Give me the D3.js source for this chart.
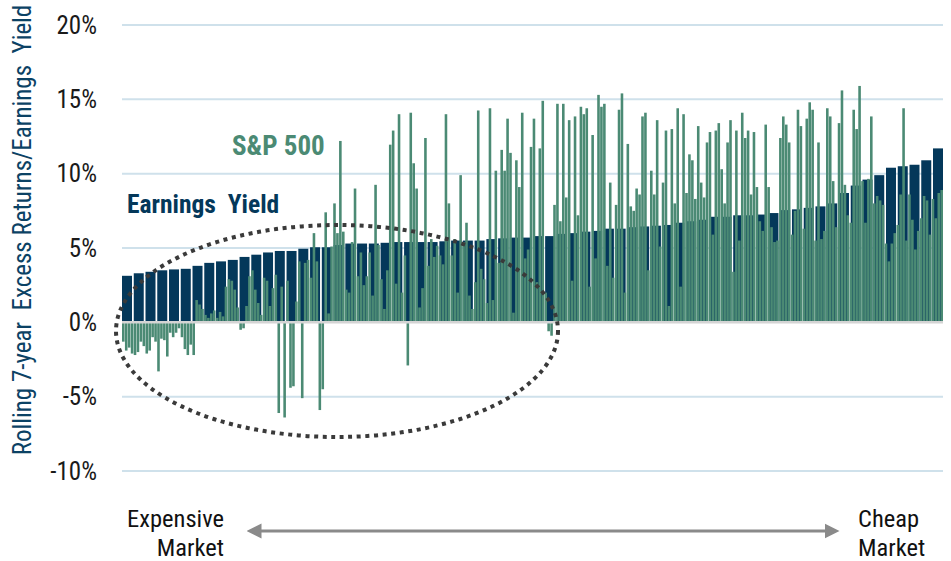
<!DOCTYPE html>
<html>
<head>
<meta charset="utf-8">
<script src="https://cdn.jsdelivr.net/npm/d3@7"></script>
<style>
  body { margin: 0; background: #fff; }
  text { font-family: "Roboto Condensed", "Liberation Sans Narrow", "Roboto", sans-serif; }
</style>
</head>
<body>
<script>
// earnings yield, one value per group of 4 months (sorted expensive -> cheap)
var earningsYield = [
  3.13, 3.3, 3.4, 3.5, 3.56, 3.6, 3.8, 4.0, 4.1, 4.2,
  4.4, 4.55, 4.7, 4.8, 4.8, 4.95, 5.05, 5.05, 5.2, 5.3,
  5.3, 5.3, 5.35, 5.4, 5.4, 5.4, 5.4, 5.45, 5.5, 5.5,
  5.5, 5.6, 5.65, 5.7, 5.7, 5.8, 5.8, 5.95, 6.0, 6.1,
  6.15, 6.3, 6.3, 6.4, 6.45, 6.5, 6.55, 6.7, 6.8, 6.9,
  7.1, 7.1, 7.2, 7.2, 7.25, 7.35, 7.55, 7.6, 7.7, 7.8,
  8.0, 8.7, 9.2, 9.6, 9.9, 10.4, 10.5, 10.6, 10.9, 11.7
];

// rolling 7-year S&P 500 excess returns, same order
var excessReturns = [
  -1.3, -1.9, -1.7, -2.1, -2.2, -2.0, -1.3, -1.6, -2.1, -1.9,
  -1.0, -1.3, -3.3, -1.1, -1.2, -2.3, -0.7, -1.0, -0.7, -0.4,
  -1.0, -1.8, -2.2, -1.5, -2.2, 1.5, 1.2, 0.9, 0.5, 0.3,
  0.6, 0.8, 0.3, 0.7, 0.4, 2.4, 2.9, 2.8, 2.2, 1.0,
  -0.5, -0.4, 1.1, 3.1, 3.5, 2.2, 1.3, 0.5, 3.0, 2.8,
  1.1, 2.3, 3.2, -6.1, 2.4, -6.4, 2.8, -4.4, -4.3, 1.4,
  4.1, -5.1, 4.0, 4.2, 3.0, 6.0, 4.1, -5.9, -4.5, 7.4,
  0.6, 5.1, 8.0, 6.0, 12.2, 6.1, 2.2, 2.0, 5.4, 9.0,
  3.1, 4.7, 2.5, 3.1, 4.7, 1.8, 9.25, 5.2, 2.9, 0.9,
  3.5, 11.95, 12.9, 2.6, 14.0, 2.0, 4.5, -2.9, 14.1, 10.7,
  9.0, 1.0, 2.3, 12.4, 3.8, 5.6, 4.4, 5.15, 4.5, 3.9,
  14.0, 8.0, 4.5, 5.6, 2.0, 9.9, 5.4, 6.7, 1.8, 0.9,
  2.7, 14.25, 3.6, 2.9, 1.3, 14.4, 1.5, 10.2, 4.0, 11.6,
  10.2, 13.7, 11.4, 0.65, 10.9, 9.1, 14.1, 4.3, 4.9, 11.8,
  13.7, 2.7, 11.7, 14.9, 2.0, -0.6, -0.9, 7.9, 14.7, 6.8,
  14.7, 8.4, 13.6, 2.8, 13.85, 7.2, 14.5, 14.0, 14.4, 2.4,
  12.6, 4.3, 15.3, 14.5, 14.7, 3.8, 9.4, 3.0, 7.9, 14.3,
  15.4, 2.0, 12.0, 7.8, 7.5, 9.0, 8.6, 13.85, 14.1, 3.5,
  10.2, 8.6, 13.6, 5.1, 9.4, 12.9, 1.1, 13.0, 8.0, 14.4,
  2.4, 14.0, 8.7, 11.3, 10.9, 8.3, 13.2, 9.4, 8.4, 12.1,
  12.8, 5.9, 12.9, 13.4, 10.3, 8.0, 12.1, 13.6, 3.4, 12.9,
  5.5, 14.1, 12.4, 12.9, 8.6, 12.8, 9.1, 6.8, 6.15, 13.3,
  9.1, 6.4, 5.4, 5.5, 12.4, 13.85, 13.3, 12.1, 5.9, 7.5,
  14.3, 13.2, 6.3, 13.7, 14.8, 14.3, 5.5, 12.1, 5.6, 6.15,
  14.4, 13.85, 9.5, 6.4, 13.4, 15.6, 9.25, 7.2, 6.7, 14.3,
  13.0, 15.9, 9.5, 6.7, 9.65, 13.85, 8.0, 8.5, 8.2, 7.9,
  5.3, 4.1, 5.3, 6.0, 6.55, 8.6, 14.4, 5.5, 8.6, 6.9,
  4.9, 6.15, 7.0, 8.5, 8.2, 5.9, 8.3, 7.0, 8.7, 8.9
];

var yTicks = [-10, -5, 0, 5, 10, 15, 20];
var yTitle = "Rolling 7-year  Excess Returns/Earnings  Yield";

var navy = "#04385a";
var green = "#4b8a74";

var w = 951, h = 561;
var padL = 122, padR = 943, padT = 25, padB = 471;

var svg = d3.select("body")
  .append("svg")
  .attr("width", w)
  .attr("height", h);

var y = d3.scaleLinear().domain([-10, 20]).range([padB, padT]);

var xGroup = d3.scaleBand()
  .domain(d3.range(earningsYield.length))
  .range([padL, padR])
  .paddingInner(0.15);

var xMonth = d3.scaleBand()
  .domain(d3.range(excessReturns.length))
  .range([padL, padR])
  .paddingInner(0.12);

// gridlines
svg.append("g")
  .selectAll("line")
  .data(yTicks.filter(function(d) { return d !== 0; }))
  .enter()
  .append("line")
  .attr("x1", padL)
  .attr("x2", padR)
  .attr("y1", function(d) { return y(d); })
  .attr("y2", function(d) { return y(d); })
  .attr("stroke", "#cfe1eb")
  .attr("stroke-width", 2);

// earnings yield bars
svg.append("g")
  .selectAll("rect")
  .data(earningsYield)
  .enter()
  .append("rect")
  .attr("x", function(d, i) { return xGroup(i); })
  .attr("width", xGroup.bandwidth())
  .attr("y", function(d) { return y(d); })
  .attr("height", function(d) { return y(0) - y(d); })
  .attr("fill", navy);

// excess return bars
svg.append("g")
  .selectAll("rect")
  .data(excessReturns)
  .enter()
  .append("rect")
  .attr("x", function(d, i) { return xMonth(i); })
  .attr("width", xMonth.bandwidth())
  .attr("y", function(d) { return y(Math.max(0, d)); })
  .attr("height", function(d) { return Math.abs(y(d) - y(0)); })
  .attr("fill", green);

// zero line
svg.append("line")
  .attr("x1", padL)
  .attr("x2", padR)
  .attr("y1", y(0))
  .attr("y2", y(0))
  .attr("stroke", "#d4d4d4")
  .attr("stroke-width", 2.5);

// y axis labels
var axis = d3.axisLeft(y)
  .tickValues(yTicks)
  .tickSize(0)
  .tickPadding(0)
  .tickFormat(function(d) { return d + "%"; });

var ag = svg.append("g")
  .attr("transform", "translate(97,0)")
  .call(axis);
ag.select(".domain").remove();
ag.selectAll("text")
  .attr("font-size", "25px")
  .attr("fill", "#1a1a1a")
  .attr("font-family", null);

// y title
svg.append("text")
  .attr("transform", "translate(31,230) rotate(-90)")
  .attr("text-anchor", "middle")
  .attr("font-size", "25px")
  .attr("fill", "#0b4264")
  .style("white-space", "pre")
  .text(yTitle);

// series labels
svg.append("text")
  .attr("x", 232)
  .attr("y", 155)
  .attr("font-size", "27px")
  .attr("font-weight", "bold")
  .attr("fill", green)
  .text("S&P 500");

svg.append("text")
  .attr("x", 127)
  .attr("y", 213)
  .attr("font-size", "25.5px")
  .attr("font-weight", "bold")
  .attr("fill", navy)
  .style("white-space", "pre")
  .text("Earnings  Yield");

// dotted ellipse
svg.append("ellipse")
  .attr("cx", 337)
  .attr("cy", 331)
  .attr("rx", 221)
  .attr("ry", 106)
  .attr("fill", "none")
  .attr("stroke", "#3a3a3a")
  .attr("stroke-width", 4)
  .attr("stroke-dasharray", "4 4.6");

// bottom arrow
var defs = svg.append("defs");
defs.append("marker")
  .attr("id", "head")
  .attr("viewBox", "0 0 10 10")
  .attr("refX", 5)
  .attr("refY", 5)
  .attr("markerWidth", 5)
  .attr("markerHeight", 5.5)
  .attr("orient", "auto-start-reverse")
  .append("path")
  .attr("d", "M0,0 L10,5 L0,10 Z")
  .attr("fill", "#8a8a8a");

svg.append("line")
  .attr("x1", 254)
  .attr("x2", 832)
  .attr("y1", 531)
  .attr("y2", 531)
  .attr("stroke", "#8a8a8a")
  .attr("stroke-width", 3)
  .attr("marker-start", "url(#head)")
  .attr("marker-end", "url(#head)");

function drawLabel(lines, x, anchor) {
  svg.append("text")
    .attr("x", x)
    .attr("y", 527)
    .attr("text-anchor", anchor)
    .attr("font-size", "24.5px")
    .attr("fill", "#111")
    .text(lines[0]);
  svg.append("text")
    .attr("x", x)
    .attr("y", 556)
    .attr("text-anchor", anchor)
    .attr("font-size", "24.5px")
    .attr("fill", "#111")
    .text(lines[1]);
}

drawLabel(["Expensive", "Market"], 224, "end");
drawLabel(["Cheap", "Market"], 858, "start");
</script>
</body>
</html>
